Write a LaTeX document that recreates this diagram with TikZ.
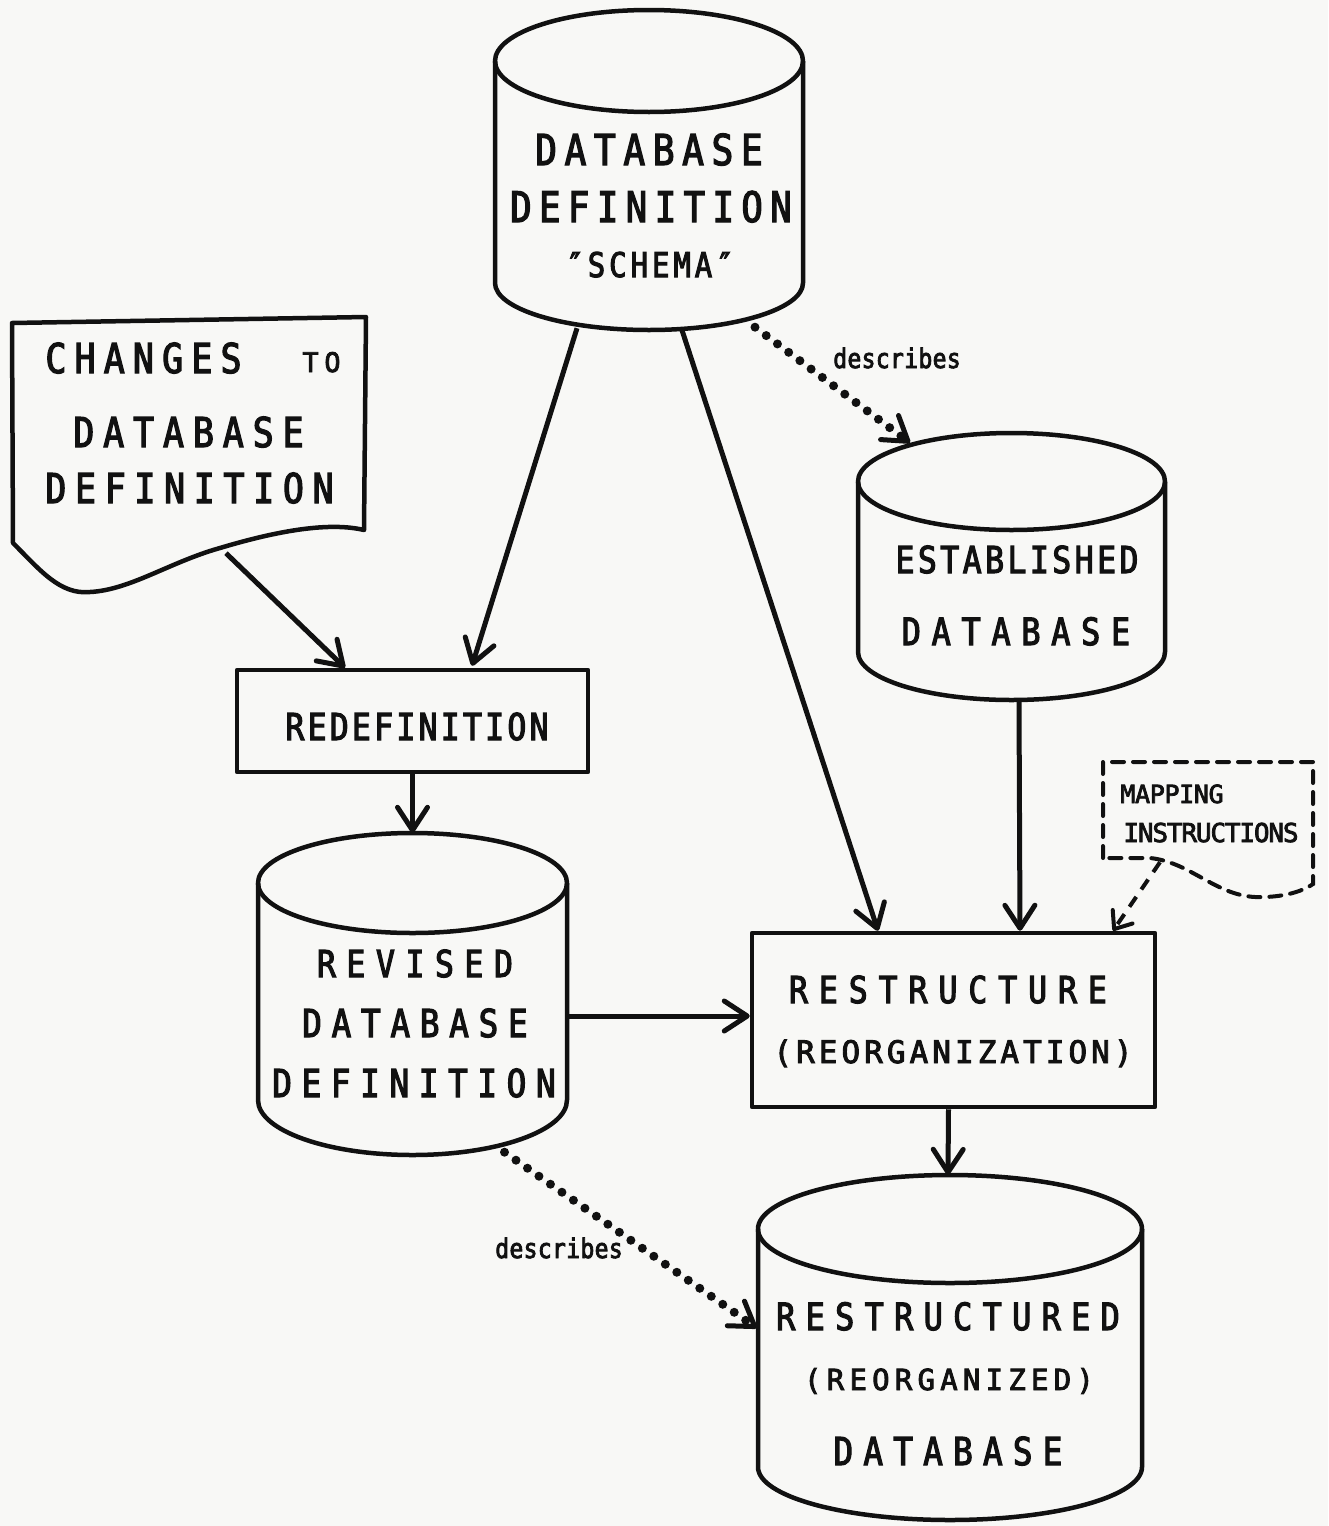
\documentclass[tikz,border=0pt]{standalone}
\usepackage{fontspec}
\newfontfamily\gothic[FakeStretch=0.85,FakeBold=3]{DejaVu Sans Mono}
\newfontfamily\gothicwide[FakeBold=3]{DejaVu Sans Mono}
\usetikzlibrary{arrows.meta,calc,fit}
\ExplSyntaxOn
% set a word with a fixed pitch per character (typewriter-style letter spacing)
\NewDocumentCommand\spaced{mm}{\tl_map_inline:nn{#2}{\makebox[#1pt]{##1}}}
\ExplSyntaxOff
% \lbl{font size}{pitch}{text}
\newcommand\lbl[3]{{\fontsize{#1}{#1}\selectfont\spaced{#2}{#3}}}
\definecolor{ink}{HTML}{111111}
\definecolor{paper}{HTML}{F8F8F6}
\tikzset{
  hold/.style={inner sep=0pt, draw=none},
  outl/.style={draw=ink, line width=4.5pt, line join=round},
  txt/.style={anchor=base, inner sep=0pt, text=ink, font=\gothic},
  barb/.tip={Straight Barb[length=23pt,width=30pt,line width=5pt 0,round]},
  arr/.style={draw=ink, line width=5pt, -barb},
  dots/.style={draw=ink, line width=9pt, line cap=round, dash pattern=on 0pt off 14pt, -barb},
  dashline/.style={draw=ink, line width=4pt, dash pattern=on 12pt off 9pt},
  dasharr/.style={dashline, -{Straight Barb[length=15pt,width=24pt,line width=4pt 0,round]}}
}
% \dbcyl{name}{cx}{top centre y}{bottom centre y}{rx}{ry top}{ry bottom}
\newcommand\dbcyl[7]{%
  \draw[outl] (#2,#3) ellipse [x radius=#5, y radius=#6];
  \draw[outl] ({#2-#5},#3) -- ({#2-#5},#4)
     arc[start angle=180, end angle=0, x radius=#5, y radius=#7] -- ({#2+#5},#3);
  \node[hold, fit={({#2-#5},{#3-#6}) ({#2+#5},{#4+#7})}] (#1) {};
}
\begin{document}
\begin{tikzpicture}[x=1pt, y=-1pt]
\useasboundingbox (0,0) rectangle (1328,1526);
\fill[paper] (0,0) rectangle (1328,1526);

% database stores
\dbcyl{schema}{649}{61}{283}{154}{51}{47}
\dbcyl{established}{1011.5}{481.5}{652}{153.5}{48.5}{48}
\dbcyl{revised}{412.5}{883}{1100}{154.5}{50}{55}
\dbcyl{restructured}{950}{1229}{1467}{192}{54}{53}

% processes
\node[hold, outl, fit={(237,670) (588,772)}] (redef) {};
\node[hold, outl, fit={(752,933) (1155,1107)}] (restructure) {};

% input document
\draw[outl] (13,543) -- (12,323) -- (366,317) -- (364,530)
   .. controls (330,522) and (280,530) .. (220,548)
   .. controls (170,562) and (130,590) .. (90,592)
   .. controls (60,595) and (40,570) .. cycle;
\node[hold, fit={(12,317) (366,593)}] (changes) {};

% dashed note
\draw[dashline, line cap=round] (1103,858) -- (1103,762) -- (1313,762) -- (1313,884)
   .. controls (1305,890) and (1285,898) .. (1255,897)
   .. controls (1215,895) and (1190,862) .. (1150,858) -- cycle;
\node[hold, fit={(1103,762) (1313,897)}] (mapping) {};

% texts
\node[txt] (s1) at (649,165) {\lbl{42.5}{29.4}{DATABASE}};
\node[txt] (s2) at (651,222) {\lbl{42}{28.9}{DEFINITION}};
\node[txt] (s3) at (650,277) {\lbl{34}{21.4}{″SCHEMA″}};

\node[txt] (c1) at (143.5,373) {\lbl{41}{29.2}{CHANGES}};
\node[txt, font=\gothicwide] (c2) at (321.5,372) {\lbl{27}{22}{TO}};
\node[txt] (c3) at (188.5,447) {\lbl{41}{29.9}{DATABASE}};
\node[txt] (c4) at (189.5,503) {\lbl{41}{29.7}{DEFINITION}};

\node[txt] (r1) at (417,740) {\lbl{37}{22.2}{REDEFINITION}};

\node[txt] (v1) at (415,977) {\lbl{37}{29.5}{REVISED}};
\node[txt] (v2) at (415,1037) {\lbl{38.4}{29.4}{DATABASE}};
\node[txt] (v3) at (414,1097) {\lbl{38.4}{29.3}{DEFINITION}};

\node[txt] (e1) at (1017,573) {\lbl{37}{22.4}{ESTABLISHED}};
\node[txt] (e2) at (1016,645) {\lbl{37.5}{29.9}{DATABASE}};

\node[txt] (p1) at (948,1003) {\lbl{37}{29.9}{RESTRUCTURE}};
\node[txt, font=\gothicwide] (p2) at (953,1063) {\lbl{31}{22.7}{(REORGANIZATION)}};

\node[txt] (d1) at (948,1330) {\lbl{37.5}{29.5}{RESTRUCTURED}};
\node[txt, font=\gothicwide] (d2) at (949,1390) {\lbl{29}{22.7}{(REORGANIZED)}};
\node[txt] (d3) at (948,1465) {\lbl{38.4}{29.9}{DATABASE}};

\node[txt, font=\gothicwide] (m1) at (1172,803) {\lbl{25}{14.7}{MAPPING}};
\node[txt, font=\gothicwide] (m2) at (1211,842) {\lbl{26}{14.5}{INSTRUCTIONS}};

\node[txt] (l1) at (897,368) {\lbl{27}{14.2}{describes}};
\node[txt] (l2) at (559,1258) {\lbl{27}{14.2}{describes}};

% connectors
\draw[arr] ($(changes.south)+(37,-40)$) -- ($(redef.north)+(-67.5,0)$);
\draw[arr] ($(schema.south)+(-72,-2)$) -- ($(redef.north)+(59.5,-2)$);
\draw[arr] ($(schema.south)+(33,0)$) -- ($(restructure.north)+(-75.5,0)$);
\draw[dots] ($(schema.south)+(106,-3)$) -- ($(established.north)+(-101.5,10)$);
\draw[arr] (redef.south) -- (revised.north);
\draw[arr] ($(established.south)+(7.5,0)$) -- ($(restructure.north)+(66.5,0)$);
\draw[dasharr] ($(mapping.south)+(-48,-35)$) -- ($(restructure.north)+(159.5,0)$);
\draw[arr] ($(revised.east)+(0,22)$) -- ($(restructure.west)+(0,-4)$);
\draw[arr] ($(restructure.south)+(-5,0)$) -- ($(restructured.north)+(-2,0)$);
\draw[dots] ($(revised.south)+(92,-3)$) -- ($(restructured.west)+(-1,-19.5)$);
\end{tikzpicture}
\end{document}
